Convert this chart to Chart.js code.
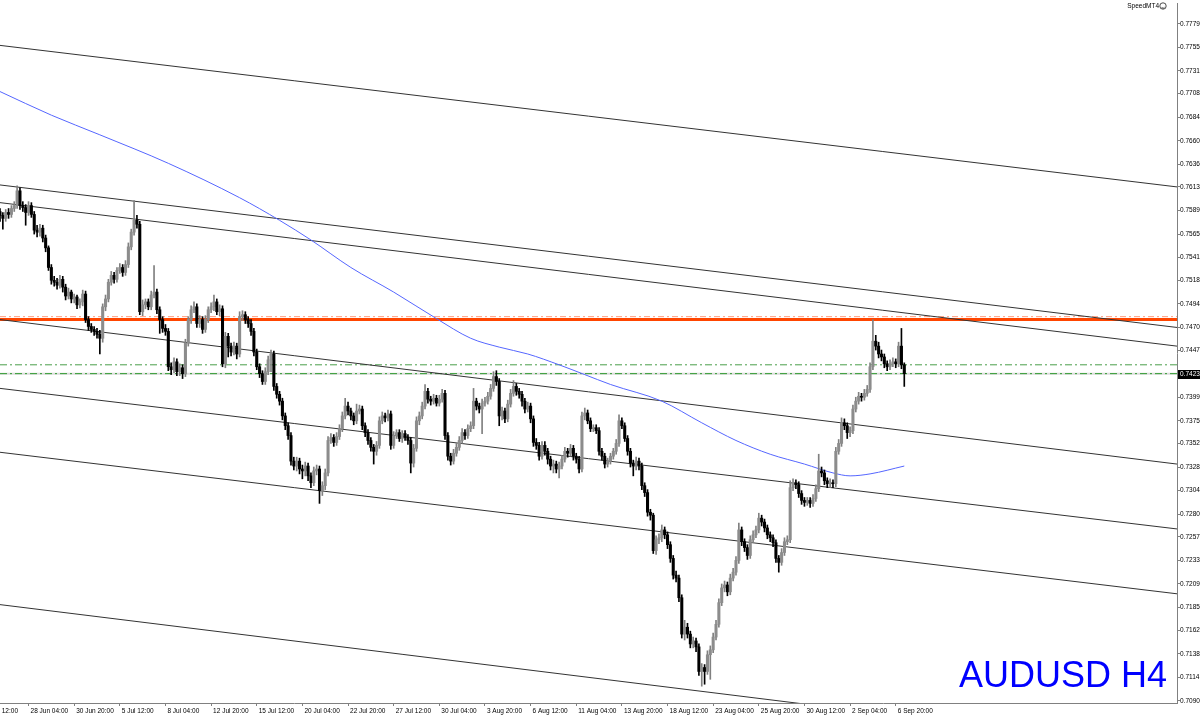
<!DOCTYPE html>
<html>
<head>
<meta charset="utf-8">
<title>AUDUSD H4</title>
<script src="https://cdn.jsdelivr.net/npm/chart.js@4.4.0/dist/chart.umd.min.js"></script>
<style>
  html, body { margin: 0; padding: 0; background: #ffffff; }
  #wrap { width: 1200px; height: 719px; position: relative; }
</style>
</head>
<body>
<div id="wrap"><canvas id="chart"></canvas></div>
<script>
// AUDUSD H4 candles (bar 0 = 23 Jun 16:00)
const opens = [
  0.7588,0.7584,0.7581,0.7587,0.7585,0.7591,0.7594,0.7609,0.7594,0.7592,
  0.7587,0.7594,0.7585,0.7569,0.7567,0.7571,0.7561,0.7551,0.7531,0.7518,
  0.7516,0.7513,0.7519,0.7511,0.7502,0.7506,0.7499,0.7501,0.7493,0.7496,
  0.7504,0.7478,0.7471,0.7468,0.7466,0.7463,0.7459,0.7491,0.7499,0.7516,
  0.7523,0.7519,0.7528,0.7531,0.7526,0.7534,0.7552,0.7567,0.7579,0.7575,
  0.7486,0.7493,0.7496,0.7491,0.7503,0.7506,0.7488,0.7478,0.7469,0.7466,
  0.7430,0.7427,0.7435,0.7425,0.7429,0.7423,0.7454,0.7478,0.7488,0.7491,
  0.7474,0.7478,0.7468,0.7478,0.7488,0.7491,0.7496,0.7486,0.7489,0.7433,
  0.7461,0.7451,0.7445,0.7451,0.7443,0.7481,0.7483,0.7478,0.7474,0.7466,
  0.7445,0.7430,0.7423,0.7415,0.7425,0.7437,0.7443,0.7410,0.7402,0.7395,
  0.7380,0.7370,0.7360,0.7334,0.7329,0.7334,0.7326,0.7324,0.7329,0.7319,
  0.7312,0.7324,0.7326,0.7304,0.7309,0.7322,0.7355,0.7358,0.7353,0.7359,
  0.7367,0.7380,0.7390,0.7385,0.7380,0.7375,0.7385,0.7387,0.7370,0.7363,
  0.7355,0.7348,0.7344,0.7350,0.7375,0.7380,0.7378,0.7382,0.7350,0.7360,
  0.7363,0.7357,0.7362,0.7358,0.7355,0.7332,0.7347,0.7375,0.7380,0.7390,
  0.7405,0.7397,0.7395,0.7398,0.7393,0.7397,0.7403,0.7360,0.7339,0.7334,
  0.7342,0.7348,0.7355,0.7363,0.7360,0.7367,0.7370,0.7395,0.7390,0.7387,
  0.7393,0.7395,0.7400,0.7408,0.7420,0.7415,0.7380,0.7385,0.7377,0.7392,
  0.7403,0.7410,0.7405,0.7402,0.7395,0.7387,0.7390,0.7377,0.7353,0.7350,
  0.7339,0.7350,0.7344,0.7336,0.7329,0.7331,0.7326,0.7329,0.7336,0.7344,
  0.7342,0.7347,0.7339,0.7336,0.7326,0.7380,0.7383,0.7375,0.7367,0.7368,
  0.7365,0.7344,0.7339,0.7331,0.7334,0.7339,0.7344,0.7352,0.7375,0.7370,
  0.7357,0.7344,0.7332,0.7329,0.7334,0.7329,0.7309,0.7302,0.7282,0.7279,
  0.7243,0.7254,0.7256,0.7264,0.7259,0.7249,0.7235,0.7218,0.7215,0.7195,
  0.7158,0.7165,0.7158,0.7148,0.7151,0.7145,0.7120,0.7124,0.7120,0.7137,
  0.7142,0.7155,0.7168,0.7190,0.7205,0.7208,0.7201,0.7215,0.7221,0.7233,
  0.7264,0.7252,0.7246,0.7238,0.7254,0.7259,0.7264,0.7276,0.7272,0.7266,
  0.7259,0.7256,0.7251,0.7235,0.7231,0.7241,0.7252,0.7254,0.7307,0.7312,
  0.7310,0.7301,0.7294,0.7292,0.7294,0.7291,0.7296,0.7306,0.7324,0.7322,
  0.7314,0.7311,0.7312,0.7311,0.7344,0.7352,0.7373,0.7370,0.7363,0.7365,
  0.7387,0.7395,0.7400,0.7399,0.7403,0.7407,0.7430,0.7456,0.7451,0.7443,
  0.7440,0.7433,0.7430,0.7433,0.7435,0.7433,0.7451,0.7432
];
const highs = [
  0.7591,0.7587,0.7590,0.7591,0.7594,0.7598,0.7614,0.7612,0.7598,0.7595,
  0.7598,0.7597,0.7588,0.7574,0.7575,0.7574,0.7564,0.7553,0.7534,0.7522,
  0.7520,0.7523,0.7522,0.7514,0.7510,0.7508,0.7504,0.7503,0.7499,0.7508,
  0.7507,0.7481,0.7474,0.7471,0.7469,0.7467,0.7494,0.7503,0.7519,0.7527,
  0.7526,0.7531,0.7535,0.7534,0.7538,0.7556,0.7570,0.7599,0.7584,0.7578,
  0.7498,0.7499,0.7499,0.7507,0.7533,0.7509,0.7491,0.7481,0.7473,0.7469,
  0.7434,0.7439,0.7438,0.7433,0.7432,0.7458,0.7481,0.7492,0.7496,0.7494,
  0.7482,0.7481,0.7482,0.7491,0.7495,0.7503,0.7499,0.7493,0.7492,0.7465,
  0.7464,0.7454,0.7455,0.7454,0.7486,0.7487,0.7486,0.7481,0.7478,0.7469,
  0.7448,0.7433,0.7426,0.7429,0.7441,0.7447,0.7446,0.7413,0.7405,0.7398,
  0.7383,0.7373,0.7363,0.7338,0.7338,0.7337,0.7330,0.7333,0.7332,0.7322,
  0.7328,0.7330,0.7329,0.7313,0.7326,0.7359,0.7362,0.7361,0.7363,0.7371,
  0.7384,0.7398,0.7394,0.7388,0.7383,0.7392,0.7391,0.7390,0.7373,0.7366,
  0.7358,0.7351,0.7354,0.7379,0.7384,0.7383,0.7386,0.7385,0.7364,0.7366,
  0.7366,0.7365,0.7365,0.7361,0.7358,0.7351,0.7379,0.7384,0.7394,0.7412,
  0.7408,0.7400,0.7402,0.7401,0.7401,0.7407,0.7406,0.7363,0.7342,0.7346,
  0.7352,0.7359,0.7367,0.7366,0.7371,0.7374,0.7408,0.7398,0.7393,0.7397,
  0.7399,0.7404,0.7412,0.7425,0.7426,0.7418,0.7389,0.7388,0.7396,0.7407,
  0.7416,0.7413,0.7408,0.7405,0.7398,0.7394,0.7393,0.7380,0.7357,0.7353,
  0.7354,0.7354,0.7347,0.7339,0.7335,0.7334,0.7333,0.7340,0.7348,0.7347,
  0.7351,0.7350,0.7342,0.7339,0.7384,0.7388,0.7386,0.7378,0.7371,0.7371,
  0.7368,0.7347,0.7342,0.7337,0.7342,0.7347,0.7356,0.7381,0.7378,0.7373,
  0.7360,0.7347,0.7335,0.7338,0.7337,0.7332,0.7312,0.7305,0.7285,0.7281,
  0.7258,0.7260,0.7269,0.7267,0.7262,0.7252,0.7238,0.7222,0.7218,0.7198,
  0.7172,0.7169,0.7161,0.7155,0.7154,0.7148,0.7128,0.7127,0.7141,0.7146,
  0.7159,0.7172,0.7194,0.7209,0.7212,0.7211,0.7219,0.7225,0.7237,0.7271,
  0.7267,0.7255,0.7249,0.7258,0.7263,0.7268,0.7281,0.7279,0.7275,0.7269,
  0.7262,0.7259,0.7254,0.7238,0.7245,0.7256,0.7258,0.7314,0.7316,0.7315,
  0.7313,0.7304,0.7297,0.7297,0.7297,0.7300,0.7310,0.7341,0.7328,0.7325,
  0.7317,0.7316,0.7315,0.7348,0.7356,0.7378,0.7377,0.7373,0.7369,0.7391,
  0.7399,0.7404,0.7403,0.7407,0.7411,0.7434,0.7478,0.7462,0.7455,0.7447,
  0.7443,0.7436,0.7437,0.7439,0.7438,0.7455,0.7469,0.7434
];
const lows = [
  0.7578,0.7570,0.7578,0.7581,0.7582,0.7588,0.7591,0.7590,0.7588,0.7574,
  0.7584,0.7582,0.7565,0.7562,0.7563,0.7557,0.7547,0.7528,0.7514,0.7512,
  0.7509,0.7510,0.7506,0.7498,0.7499,0.7495,0.7495,0.7489,0.7490,0.7492,
  0.7475,0.7467,0.7465,0.7462,0.7459,0.7443,0.7455,0.7487,0.7496,0.7513,
  0.7515,0.7516,0.7525,0.7522,0.7523,0.7531,0.7549,0.7564,0.7571,0.7483,
  0.7482,0.7489,0.7488,0.7488,0.7500,0.7484,0.7464,0.7465,0.7462,0.7426,
  0.7422,0.7424,0.7421,0.7421,0.7418,0.7420,0.7451,0.7474,0.7485,0.7470,
  0.7470,0.7464,0.7465,0.7475,0.7485,0.7487,0.7483,0.7482,0.7430,0.7429,
  0.7440,0.7441,0.7442,0.7438,0.7440,0.7477,0.7474,0.7470,0.7462,0.7441,
  0.7427,0.7419,0.7412,0.7412,0.7422,0.7425,0.7406,0.7398,0.7391,0.7376,
  0.7366,0.7356,0.7330,0.7325,0.7324,0.7321,0.7316,0.7319,0.7314,0.7307,
  0.7309,0.7320,0.7291,0.7299,0.7305,0.7319,0.7352,0.7349,0.7350,0.7356,
  0.7364,0.7377,0.7381,0.7376,0.7371,0.7372,0.7382,0.7366,0.7359,0.7351,
  0.7344,0.7331,0.7340,0.7347,0.7372,0.7374,0.7375,0.7346,0.7347,0.7357,
  0.7354,0.7353,0.7355,0.7351,0.7322,0.7328,0.7344,0.7371,0.7377,0.7387,
  0.7393,0.7391,0.7392,0.7390,0.7390,0.7394,0.7356,0.7335,0.7330,0.7331,
  0.7339,0.7345,0.7352,0.7356,0.7357,0.7364,0.7367,0.7386,0.7383,0.7362,
  0.7390,0.7392,0.7397,0.7405,0.7411,0.7370,0.7376,0.7373,0.7374,0.7389,
  0.7400,0.7401,0.7398,0.7390,0.7383,0.7384,0.7373,0.7349,0.7346,0.7335,
  0.7336,0.7340,0.7331,0.7325,0.7322,0.7322,0.7317,0.7326,0.7333,0.7338,
  0.7339,0.7335,0.7332,0.7322,0.7323,0.7376,0.7372,0.7364,0.7364,0.7362,
  0.7340,0.7335,0.7327,0.7328,0.7331,0.7336,0.7341,0.7349,0.7367,0.7354,
  0.7340,0.7328,0.7319,0.7325,0.7325,0.7305,0.7298,0.7278,0.7274,0.7240,
  0.7239,0.7250,0.7252,0.7255,0.7245,0.7231,0.7214,0.7211,0.7191,0.7154,
  0.7152,0.7154,0.7144,0.7144,0.7140,0.7116,0.7105,0.7107,0.7117,0.7112,
  0.7139,0.7152,0.7165,0.7187,0.7201,0.7197,0.7198,0.7212,0.7218,0.7230,
  0.7248,0.7242,0.7234,0.7235,0.7251,0.7256,0.7261,0.7268,0.7262,0.7255,
  0.7252,0.7247,0.7231,0.7221,0.7228,0.7238,0.7249,0.7251,0.7304,0.7306,
  0.7297,0.7290,0.7288,0.7289,0.7287,0.7288,0.7293,0.7303,0.7318,0.7310,
  0.7307,0.7307,0.7307,0.7308,0.7341,0.7349,0.7366,0.7357,0.7359,0.7362,
  0.7384,0.7392,0.7395,0.7396,0.7400,0.7404,0.7427,0.7447,0.7439,0.7436,
  0.7429,0.7426,0.7427,0.7430,0.7429,0.7430,0.7428,0.7410
];
const closes = [
  0.7584,0.7581,0.7587,0.7585,0.7591,0.7594,0.7609,0.7594,0.7592,0.7587,
  0.7594,0.7585,0.7569,0.7567,0.7571,0.7561,0.7551,0.7531,0.7518,0.7516,
  0.7513,0.7519,0.7511,0.7502,0.7506,0.7499,0.7501,0.7493,0.7496,0.7504,
  0.7478,0.7471,0.7468,0.7466,0.7463,0.7459,0.7491,0.7499,0.7516,0.7523,
  0.7519,0.7528,0.7531,0.7526,0.7534,0.7552,0.7567,0.7579,0.7575,0.7486,
  0.7493,0.7496,0.7491,0.7503,0.7506,0.7488,0.7478,0.7469,0.7466,0.7430,
  0.7427,0.7435,0.7425,0.7429,0.7423,0.7454,0.7478,0.7488,0.7491,0.7474,
  0.7478,0.7468,0.7478,0.7488,0.7491,0.7496,0.7486,0.7489,0.7433,0.7461,
  0.7451,0.7445,0.7451,0.7443,0.7481,0.7483,0.7478,0.7474,0.7466,0.7445,
  0.7430,0.7423,0.7415,0.7425,0.7437,0.7443,0.7410,0.7402,0.7395,0.7380,
  0.7370,0.7360,0.7334,0.7329,0.7334,0.7326,0.7324,0.7329,0.7319,0.7312,
  0.7324,0.7326,0.7304,0.7309,0.7322,0.7355,0.7358,0.7353,0.7359,0.7367,
  0.7380,0.7390,0.7385,0.7380,0.7375,0.7385,0.7387,0.7370,0.7363,0.7355,
  0.7348,0.7344,0.7350,0.7375,0.7380,0.7378,0.7382,0.7350,0.7360,0.7363,
  0.7357,0.7362,0.7358,0.7355,0.7332,0.7347,0.7375,0.7380,0.7390,0.7405,
  0.7397,0.7395,0.7398,0.7393,0.7397,0.7403,0.7360,0.7339,0.7334,0.7342,
  0.7348,0.7355,0.7363,0.7360,0.7367,0.7370,0.7395,0.7390,0.7387,0.7393,
  0.7395,0.7400,0.7408,0.7420,0.7415,0.7380,0.7385,0.7377,0.7392,0.7403,
  0.7410,0.7405,0.7402,0.7395,0.7387,0.7390,0.7377,0.7353,0.7350,0.7339,
  0.7350,0.7344,0.7336,0.7329,0.7331,0.7326,0.7329,0.7336,0.7344,0.7342,
  0.7347,0.7339,0.7336,0.7326,0.7380,0.7383,0.7375,0.7367,0.7368,0.7365,
  0.7344,0.7339,0.7331,0.7334,0.7339,0.7344,0.7352,0.7375,0.7370,0.7357,
  0.7344,0.7332,0.7329,0.7334,0.7329,0.7309,0.7302,0.7282,0.7279,0.7243,
  0.7254,0.7256,0.7264,0.7259,0.7249,0.7235,0.7218,0.7215,0.7195,0.7158,
  0.7165,0.7158,0.7148,0.7151,0.7145,0.7120,0.7124,0.7120,0.7137,0.7142,
  0.7155,0.7168,0.7190,0.7205,0.7208,0.7201,0.7215,0.7221,0.7233,0.7264,
  0.7252,0.7246,0.7238,0.7254,0.7259,0.7264,0.7276,0.7272,0.7266,0.7259,
  0.7256,0.7251,0.7235,0.7231,0.7241,0.7252,0.7254,0.7307,0.7312,0.7310,
  0.7301,0.7294,0.7292,0.7294,0.7291,0.7296,0.7306,0.7324,0.7322,0.7314,
  0.7311,0.7312,0.7311,0.7344,0.7352,0.7373,0.7370,0.7363,0.7365,0.7387,
  0.7395,0.7400,0.7399,0.7403,0.7407,0.7430,0.7456,0.7451,0.7443,0.7440,
  0.7433,0.7430,0.7433,0.7435,0.7433,0.7451,0.7432,0.7423
];

// moving average, sampled along the blue curve (bar index / price)
const maIdx = [0, 18, 35, 59, 84, 98, 109, 123, 138, 153, 165, 175, 185, 196, 205, 214, 232, 246, 258, 270, 282, 292, 298, 305, 317];
const maVal = [0.7710, 0.7686, 0.7666, 0.7637, 0.7602, 0.7579, 0.7559, 0.7531, 0.7506, 0.7479, 0.7459, 0.7450, 0.7443, 0.7432, 0.7422, 0.7412, 0.7395, 0.7373, 0.7355, 0.7341, 0.7331, 0.7322, 0.7319, 0.7321, 0.7329];

// trend channel lines: price at left edge, price at right edge
const channelStart = [0.7757, 0.7615, 0.7597, 0.7478, 0.7408, 0.7343, 0.7188];
const channelEnd   = [0.7613, 0.7470, 0.7451, 0.7331, 0.7265, 0.7199, 0.7040];

// horizontal levels
const resistance = 0.7478;
const resistanceTop = 0.7481;
const askLevel = 0.7432;
const bidLevel = 0.7423;

// axis ticks
const xTickIdx = [10, 26, 42, 58, 74, 90, 106, 122, 138, 154, 170, 186, 202, 218, 234, 250, 266, 282, 298, 314];
const xTickLabels = ['28 Jun 04:00', '30 Jun 20:00', '5 Jul 12:00', '8 Jul 04:00', '12 Jul 20:00', '15 Jul 12:00',
  '20 Jul 04:00', '22 Jul 20:00', '27 Jul 12:00', '30 Jul 04:00', '3 Aug 20:00', '6 Aug 12:00', '11 Aug 04:00',
  '13 Aug 20:00', '18 Aug 12:00', '23 Aug 04:00', '25 Aug 20:00', '30 Aug 12:00', '2 Sep 04:00', '6 Sep 20:00'];
const yTicks = [0.7090, 0.7114, 0.7138, 0.7162, 0.7185, 0.7209, 0.7233, 0.7257, 0.7280, 0.7304, 0.7328, 0.7352,
  0.7375, 0.7399, 0.7423, 0.7447, 0.7470, 0.7494, 0.7518, 0.7541, 0.7565, 0.7589, 0.7613, 0.7636, 0.7660,
  0.7684, 0.7708, 0.7731, 0.7755, 0.7779];

const X_MAX = 412.6;
const Y_MIN = 0.70879;
const Y_MAX = 0.77992;
const FONT = '"Liberation Sans", Arial, sans-serif';

const bull = closes.map((c, i) => c >= opens[i]);
const wickColors = bull.map(b => b ? '#808080' : '#000000');
const bodyColors = bull.map(b => b ? '#8c8c8c' : '#000000');

const wickData = closes.map((c, i) => ({ x: i, y: [lows[i], highs[i]] }));
const bodyData = closes.map((c, i) => ({ x: i, y: [Math.min(opens[i], c), Math.max(opens[i], c)] }));

function segment(a, b) {
  return [{ x: 0, y: a }, { x: X_MAX, y: b }];
}

const lineBase = { type: 'line', pointRadius: 0, borderWidth: 1, fill: false, tension: 0 };

const channelSets = channelStart.map((s, k) => ({
  ...lineBase,
  data: segment(s, channelEnd[k]),
  borderColor: '#333333',
  order: 2
}));

const datasets = [
  {
    label: 'bodies',
    data: bodyData,
    backgroundColor: bodyColors,
    barThickness: 2.4,
    minBarLength: 1,
    grouped: false,
    borderWidth: 0,
    order: 0
  },
  {
    label: 'wicks',
    data: wickData,
    backgroundColor: wickColors,
    barThickness: 1,
    grouped: false,
    borderWidth: 0,
    order: 1
  },
  {
    ...lineBase,
    label: 'MA',
    data: maIdx.map((x, k) => ({ x: x, y: maVal[k] })),
    borderColor: '#5566ff',
    cubicInterpolationMode: 'monotone',
    order: 1
  },
  ...channelSets,
  {
    ...lineBase,
    data: segment(resistance, resistance),
    borderColor: '#ff4500',
    borderWidth: 3,
    order: 3
  },
  {
    ...lineBase,
    data: segment(resistanceTop, resistanceTop),
    borderColor: 'rgba(255,90,40,0.6)',
    borderDash: [6, 3, 2, 3],
    order: 3
  },
  {
    ...lineBase,
    data: segment(askLevel, askLevel),
    borderColor: '#4a9e4a',
    borderDash: [7, 3, 2, 3],
    order: 3
  },
  {
    ...lineBase,
    data: segment(bidLevel, bidLevel),
    borderColor: '#2e9a2e',
    borderDash: [7, 3, 2, 3],
    order: 3
  },
  {
    ...lineBase,
    data: segment(bidLevel, bidLevel),
    borderColor: '#dcdcdc',
    borderWidth: 2,
    order: 4
  }
];

const overlay = {
  id: 'overlay',
  afterDraw(chart) {
    const c = chart.ctx;
    const y = chart.scales.y;
    const area = chart.chartArea;
    c.save();

    // current price box
    const last = closes[closes.length - 1];
    const py = Math.round(y.getPixelForValue(last));
    c.fillStyle = '#000000';
    c.fillRect(area.right + 1, py - 4, 24, 9);
    c.fillStyle = '#ffffff';
    c.font = '6.5px ' + FONT;
    c.textBaseline = 'middle';
    c.textAlign = 'left';
    c.fillText(last.toFixed(4), area.right + 3, py + 0.5);

    // first, cut-off date label
    c.fillStyle = '#000000';
    c.textAlign = 'right';
    c.fillText('23 Jun 12:00', 18, 711);

    // broker mark
    c.textAlign = 'right';
    c.fillText('SpeedMT4', 1159, 6);
    c.strokeStyle = '#000000';
    c.lineWidth = 0.7;
    c.beginPath();
    c.arc(1163, 6, 3.2, 0, Math.PI * 2);
    c.stroke();
    c.beginPath();
    c.arc(1163, 6.3, 1.8, 0.2 * Math.PI, 0.8 * Math.PI);
    c.stroke();

    // symbol caption
    c.fillStyle = '#0000ff';
    c.font = '36px ' + FONT;
    c.textAlign = 'right';
    c.textBaseline = 'alphabetic';
    c.fillText('AUDUSD H4', 1167, 687);
    c.restore();
  }
};

new Chart(document.getElementById('chart'), {
  type: 'bar',
  data: { datasets: datasets },
  options: {
    responsive: true,
    maintainAspectRatio: false,
    animation: false,
    events: [],
    layout: { padding: 0 },
    plugins: {
      legend: { display: false },
      tooltip: { enabled: false }
    },
    scales: {
      x: {
        type: 'linear',
        offset: false,
        min: 0,
        max: X_MAX,
        afterBuildTicks: (scale) => { scale.ticks = xTickIdx.map(v => ({ value: v })); },
        afterFit: (scale) => { scale.height = 16; },
        ticks: {
          autoSkip: false,
          maxRotation: 0,
          align: 'start',
          labelOffset: 2,
          padding: 1,
          color: '#000000',
          font: { family: FONT, size: 6.5 },
          callback: (value) => xTickLabels[xTickIdx.indexOf(value)]
        },
        grid: { offset: false, drawOnChartArea: false, drawTicks: true, tickLength: 3, color: '#808080' },
        border: { color: '#808080' }
      },
      y: {
        position: 'right',
        min: Y_MIN,
        max: Y_MAX,
        afterBuildTicks: (scale) => { scale.ticks = yTicks.map(v => ({ value: v })); },
        afterFit: (scale) => { scale.width = 23; },
        ticks: {
          padding: 0,
          crossAlign: 'near',
          color: '#000000',
          font: { family: FONT, size: 6.5 },
          callback: (value) => value.toFixed(4)
        },
        grid: { drawOnChartArea: false, drawTicks: true, tickLength: 3, color: '#808080' },
        border: { color: '#808080' }
      }
    }
  },
  plugins: [overlay]
});
</script>
</body>
</html>
